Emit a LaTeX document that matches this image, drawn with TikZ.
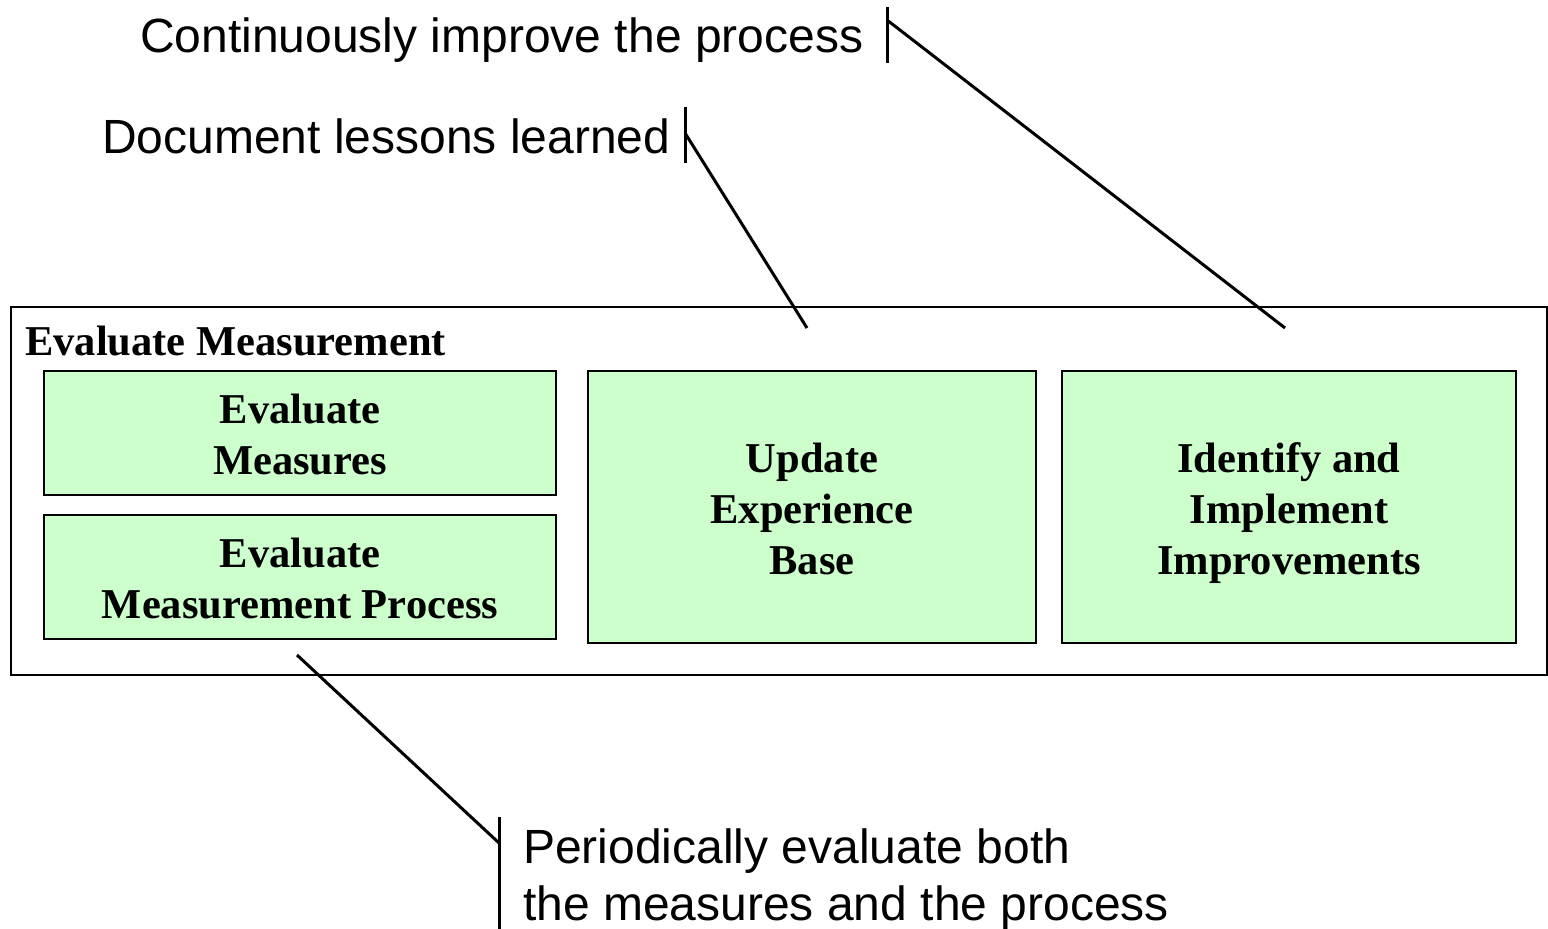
\documentclass[tikz,border=0pt]{standalone}
\usepackage{fontspec}
\setmainfont{Liberation Serif}
\newfontfamily\arialf{Liberation Sans}
\definecolor{boxgreen}{HTML}{CCFFCC}
\newcommand{\topstrut}{\rule{0pt}{42pt}}
\begin{document}
\begin{tikzpicture}[x=1pt,y=-1pt,
  greenbox/.style={draw=black,fill=boxgreen,line width=2.5pt,inner sep=0pt,
    font=\fontsize{42.5}{51}\selectfont\bfseries,align=center,text depth=10pt},
  outerbox/.style={draw=black,line width=2pt},
  callout/.style={font=\arialf\fontsize{48}{57}\selectfont,inner sep=0pt,align=left},
  pointer/.style={line width=3pt}]
\useasboundingbox (0,0) rectangle (1548,929);
% outer box
\draw[outerbox] (11,307) rectangle (1547,675);
\node[anchor=base west,inner sep=0pt,font=\fontsize{42.5}{51}\selectfont\bfseries] (title) at (25,355) {Evaluate Measurement};
% green boxes
\node[greenbox,minimum width=512pt,minimum height=124pt] (em) at (300,433) {\topstrut Evaluate\\Measures};
\node[greenbox,minimum width=512pt,minimum height=124pt] (emp) at (300,577) {\topstrut Evaluate\\Measurement Process};
\node[greenbox,minimum width=448pt,minimum height=272pt] (ueb) at (812,507) {\topstrut Update\\Experience\\Base};
\node[greenbox,minimum width=454pt,minimum height=272pt] (iii) at (1289,507) {\topstrut Identify and\\Implement\\Improvements};
% callout texts
\node[callout,anchor=base west] (cont) at (140,52) {Continuously improve the process};
\node[callout,anchor=base west] (doc) at (102,153) {Document lessons learned};
\node[callout,anchor=base west] (per) at (523,920) {Periodically evaluate both\\the measures and the process};
% bars
\coordinate (b1t) at (887,7);  \coordinate (b1b) at (887,63);  \coordinate (b1j) at (887,20);
\coordinate (b2t) at (685,107); \coordinate (b2b) at (685,163); \coordinate (b2j) at (685,133);
\coordinate (b3t) at (499,817); \coordinate (b3b) at (499,929); \coordinate (b3j) at (499,843);
\coordinate (p1) at (1285,328);
\coordinate (p2) at (807,328);
\coordinate (p3) at (297,655);
\draw[pointer] (b1t) -- (b1b);
\draw[pointer] (b1j) -- (p1);
\draw[pointer] (b2t) -- (b2b);
\draw[pointer] (b2j) -- (p2);
\draw[pointer] (b3t) -- (b3b);
\draw[pointer] (b3j) -- (p3);
\end{tikzpicture}
\end{document}
